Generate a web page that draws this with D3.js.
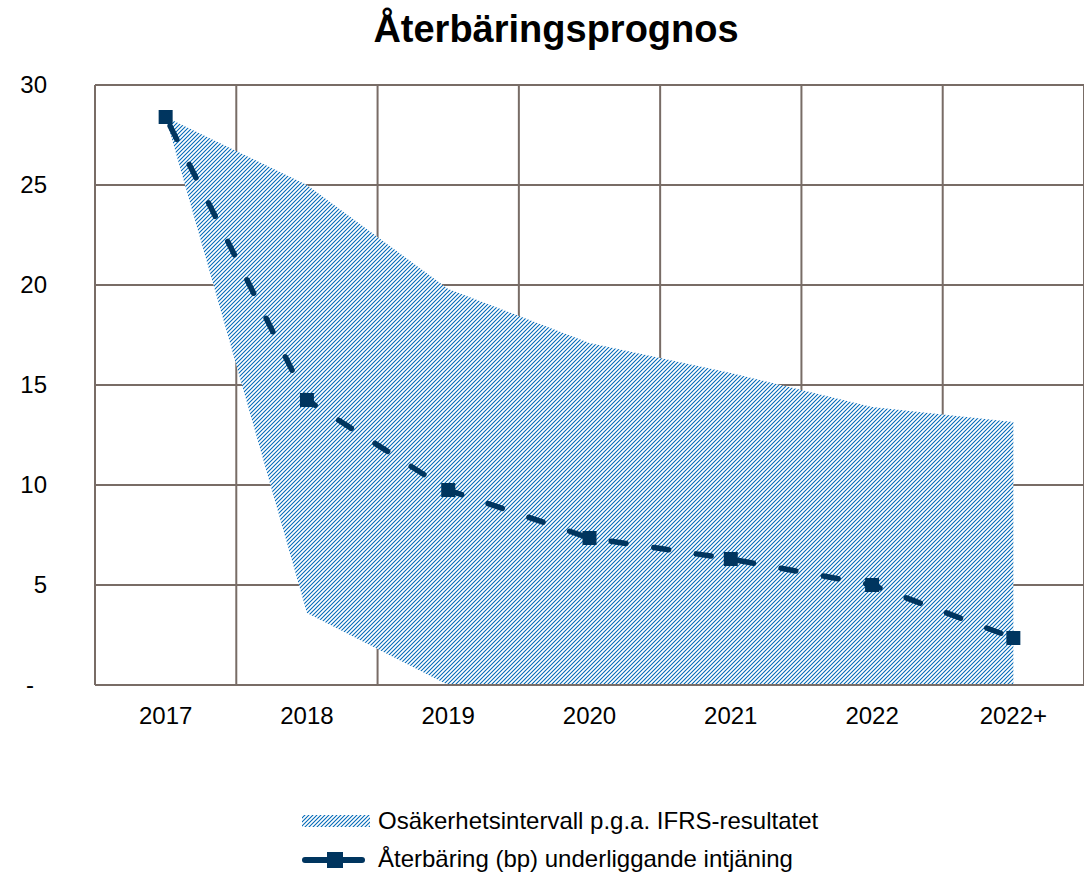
<!DOCTYPE html>
<html><head><meta charset="utf-8">
<script src="https://cdn.jsdelivr.net/npm/d3@7"></script>
<style>body{margin:0;background:#fff}svg{display:block;font-family:"Liberation Sans",Arial,sans-serif}</style>
</head><body><svg id="c" width="1084" height="875"></svg>
<script>
const categories = ["2017","2018","2019","2020","2021","2022","2022+"];
const bandUpper = [28.4, 25.0, 19.8, 17.1, 15.6, 13.9, 13.15];
const bandLower = [28.4, 3.6, 0, 0, 0, 0, 0];
const lineValues = [28.4, 14.25, 9.75, 7.35, 6.3, 5.0, 2.35];
const yTicks = [0, 5, 10, 15, 20, 25, 30];
const title = "Återbäringsprognos";
const legendBand = "Osäkerhetsintervall p.g.a. IFRS-resultatet";
const legendLine = "Återbäring (bp) underliggande intjäning";

const svg = d3.select("#c");
const M = {l:95, r:1084, t:85, b:685};
const x = d3.scaleBand().domain(categories).range([M.l, M.r]);
const y = d3.scaleLinear().domain([0,30]).range([M.b, M.t]);
const cx = d => x(d) + x.bandwidth()/2;
const gridC = "#786c66", blue = "#0068b8", navy = "#00355f";

const defs = svg.append("defs");
const pat = defs.append("pattern").attr("id","hatch").attr("patternUnits","userSpaceOnUse")
  .attr("width",4).attr("height",4);
pat.append("rect").attr("width",4).attr("height",4).attr("fill","#fff");
pat.append("path").attr("d","M-1,1 L1,-1 M0,4 L4,0 M3,5 L5,3").attr("stroke",blue).attr("stroke-width",1.05).attr("fill","none");

svg.append("text").attr("x",556).attr("y",42).attr("text-anchor","middle")
  .attr("font-size",38).attr("font-weight","bold").text(title);

// grid
const g = svg.append("g");
g.selectAll("line.h").data(yTicks).join("line")
  .attr("x1",M.l).attr("x2",M.r).attr("y1",d=>y(d)).attr("y2",d=>y(d))
  .attr("stroke",gridC).attr("stroke-width",2);
const vx = categories.map(c=>x(c)).concat([M.r]);
g.selectAll("line.v").data(vx).join("line")
  .attr("x1",d=>d).attr("x2",d=>d).attr("y1",M.t).attr("y2",M.b)
  .attr("stroke",gridC).attr("stroke-width",2);

// band
const area = d3.area().x((d,i)=>cx(categories[i])).y0((d,i)=>y(bandLower[i])).y1(d=>y(d))
  .curve(d3.curveLinear);
svg.append("path").attr("d",area(bandUpper)).attr("fill","url(#hatch)");
// baseline axis over band
svg.append("line").attr("x1",M.l).attr("x2",M.r).attr("y1",y(0)).attr("y2",y(0))
  .attr("stroke",gridC).attr("stroke-width",2);

// line
const line = d3.line().x((d,i)=>cx(categories[i])).y(d=>y(d)).curve(d3.curveLinear);
svg.append("path").attr("d",line(lineValues)).attr("fill","none").attr("stroke",navy)
  .attr("stroke-width",5.5).attr("stroke-dasharray","15,28").attr("stroke-dashoffset",-10)
  .attr("stroke-linecap","round");
svg.selectAll("rect.m").data(lineValues).join("rect")
  .attr("x",(d,i)=>cx(categories[i])-7).attr("y",d=>y(d)-7).attr("width",14).attr("height",14)
  .attr("fill",navy);

// axes labels
svg.selectAll("text.y").data(yTicks).join("text")
  .attr("x",d=>d===0?34:47).attr("y",d=>y(d)+8).attr("text-anchor","end")
  .attr("font-size",24).text(d=>d===0?"-":d);
svg.selectAll("text.x").data(categories).join("text")
  .attr("x",d=>cx(d)).attr("y",724).attr("text-anchor","middle")
  .attr("font-size",24).text(d=>d);

// legend
svg.append("rect").attr("x",302).attr("y",815).attr("width",68).attr("height",12).attr("fill","url(#hatch)");
svg.append("text").attr("x",378).attr("y",829).attr("font-size",24).text(legendBand);
svg.append("line").attr("x1",305).attr("x2",362).attr("y1",860).attr("y2",860)
  .attr("stroke",navy).attr("stroke-width",6).attr("stroke-linecap","round");
svg.append("rect").attr("x",327).attr("y",852).attr("width",16).attr("height",16).attr("fill",navy);
svg.append("text").attr("x",378).attr("y",867).attr("font-size",24).text(legendLine);
</script></body></html>
